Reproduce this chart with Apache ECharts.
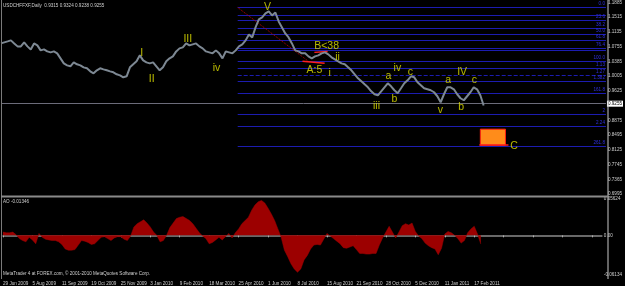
<!DOCTYPE html>
<html>
<head>
<meta charset="utf-8">
<title>USDCHF Daily</title>
<script src="https://cdn.jsdelivr.net/npm/echarts@6/dist/echarts.min.js"></script>
<style>
  html, body { margin: 0; padding: 0; background: #000; }
  #chart { width: 625px; height: 286px; }
</style>
</head>
<body>
<div id="chart"></div>
<script>
// one point every 3 daily bars, 29 Jun 2009 .. Feb 2011
const dateLabels = ['29 Jun 2009', '5 Aug 2009', '11 Sep 2009', '19 Oct 2009', '25 Nov 2009', '3 Jan 2010',
  '9 Feb 2010', '18 Mar 2010', '25 Apr 2010', '1 Jun 2010', '8 Jul 2010', '15 Aug 2010', '21 Sep 2010',
  '28 Oct 2010', '5 Dec 2010', '11 Jan 2011', '17 Feb 2011'];

const closes = [
  1.0839, 1.0865, 1.0890, 1.0916, 1.0839, 1.0763, 1.0763, 1.0865, 1.0763, 1.0686,
  1.0839, 1.0788, 1.0661, 1.0686, 1.0635, 1.0610, 1.0635, 1.0585, 1.0457, 1.0330,
  1.0279, 1.0254, 1.0355, 1.0305, 1.0279, 1.0228, 1.0203, 1.0126, 1.0075, 1.0152,
  1.0203, 1.0177, 1.0152, 1.0126, 1.0101, 1.0050, 1.0024, 0.9973, 0.9999, 1.0228,
  1.0305, 1.0381, 1.0534, 1.0406, 1.0355, 1.0330, 1.0355, 1.0254, 1.0152, 1.0228,
  1.0381, 1.0457, 1.0508, 1.0635, 1.0712, 1.0737, 1.0839, 1.0788, 1.0814, 1.0839,
  1.0763, 1.0712, 1.0635, 1.0610, 1.0585, 1.0661, 1.0585, 1.0457, 1.0635, 1.0610,
  1.0585, 1.0661, 1.0763, 1.0814, 1.0916, 1.1068, 1.0992, 1.1247, 1.1450, 1.1501,
  1.1603, 1.1654, 1.1552, 1.1628, 1.1399, 1.1247, 1.1094, 1.0992, 1.0839, 1.0661,
  1.0635, 1.0585, 1.0585, 1.0508, 1.0457, 1.0508, 1.0534, 1.0585, 1.0610, 1.0559,
  1.0483, 1.0432, 1.0381, 1.0330, 1.0305, 1.0228, 1.0152, 1.0050, 0.9948, 0.9872,
  0.9795, 0.9719, 0.9617, 0.9541, 0.9515, 0.9617, 0.9719, 0.9821, 0.9744, 0.9643,
  0.9566, 0.9693, 0.9821, 0.9897, 0.9999, 0.9973, 0.9846, 0.9770, 0.9693, 0.9668,
  0.9643, 0.9592, 0.9490, 0.9337, 0.9541, 0.9719, 0.9719, 0.9668, 0.9541, 0.9439,
  0.9388, 0.9490, 0.9592, 0.9719, 0.9668, 0.9515, 0.9255
];

const aoValues = [
  0.005, 0.004, 0.004, 0.005, 0.001, -0.005, -0.008, -0.010, -0.003, -0.007,
  -0.013, 0.003, -0.003, -0.006, -0.007, -0.008, -0.008, -0.010, -0.014, -0.021,
  -0.023, -0.023, -0.022, -0.015, -0.008, -0.009, -0.011, -0.014, -0.013, -0.008,
  -0.003, -0.002, -0.005, -0.008, -0.004, -0.002, -0.002, -0.006, -0.008, -0.001,
  0.013, 0.018, 0.021, 0.024, 0.019, 0.013, 0.005, 0.000, -0.010, -0.008,
  0.000, 0.012, 0.019, 0.026, 0.028, 0.029, 0.026, 0.023, 0.018, 0.011,
  0.004, -0.001, -0.005, -0.013, -0.011, -0.007, -0.003, -0.007, -0.002, 0.003,
  -0.004, 0.004, 0.010, 0.018, 0.023, 0.028, 0.039, 0.047, 0.052, 0.054,
  0.050, 0.042, 0.033, 0.023, 0.010, -0.003, -0.023, -0.033, -0.044, -0.052,
  -0.057, -0.052, -0.038, -0.031, -0.021, -0.015, -0.014, -0.015, -0.006, 0.003,
  -0.001, -0.005, -0.009, -0.013, -0.019, -0.020, -0.018, -0.016, -0.022, -0.028,
  -0.028, -0.029, -0.029, -0.028, -0.028, -0.015, -0.004, 0.005, 0.014, 0.005,
  -0.004, 0.005, 0.015, 0.018, 0.016, 0.019, 0.006, -0.001, -0.005, -0.012,
  -0.016, -0.019, -0.021, -0.030, -0.020, 0.002, 0.006, 0.004, 0.000, -0.005,
  -0.012, -0.008, 0.004, 0.010, 0.014, 0.002, -0.01346
];

const priceTicks = ['0.6995', '0.7365', '0.7745', '0.8125', '0.8495', '0.8875', '',
  '0.9625', '1.0005', '1.0385', '1.0755', '1.1135', '1.1515', '1.1885'];
const priceMin = 0.6995;
const priceStep = 0.0376;
const lastPrice = 0.9255;

// fibonacci levels drawn from the V top
const fibLevels = [1.1756, 1.1552, 1.1425, 1.1221, 1.1068, 1.0916, 1.0712, 1.0661, 1.0381,
  1.0203, 1.0024, 0.9872, 0.9566, 0.9031, 0.8728, 0.8217];
const fibNames = ['0.0', '', '23.6', '38.2', '50.0', '61.8', '76.4', '', '100.0',
  '1.13', '1.27', '1.382', '161.8', '2', '2.24', '261.8'];
const fibStart = 71.6;
const lastSlot = 183;

// wave count labels (slot, price)
const waveNames = ['V', 'I', 'II', 'III', 'iv', 'A:5', 'B<38', 'ii', 'i', 'iii', 'a', 'iv', 'b', 'c',
  'v', 'a', 'IV', 'b', 'c', 'C'];
const waveX = [80.6, 42.6, 45.6, 56.5, 65.2, 94.8, 98.5, 101.8, 99.4, 113.6, 117.2, 119.9, 119.0, 123.8,
  132.9, 135.3, 139.5, 139.2, 143.2, 155.2];
const waveY = [1.1756, 1.0585, 0.9923, 1.0941, 1.0203, 1.0152, 1.0763, 1.0483, 1.0075, 0.9235, 0.9999,
  1.0203, 0.9414, 1.0101, 0.9133, 0.9897, 1.0101, 0.9210, 0.9897, 0.8217];

const small = { fontSize: 4.6, fontFamily: 'Liberation Sans', color: '#cfcfcf' };

let myChart = echarts.init(document.getElementById('chart'));

let fibLines = fibLevels.map((lvl, i) => [
  {
    coord: [fibStart, lvl],
    lineStyle: { color: '#1c1cb0', width: 1, type: fibNames[i] === '1.27' ? 'dashed' : 'solid' },
    label: {
      show: fibNames[i] !== '', formatter: fibNames[i], position: 'insideEndTop', distance: 1,
      fontSize: 4.6, fontFamily: 'Liberation Sans', color: '#3030e0'
    }
  },
  { coord: [lastSlot, lvl] }
]);

let redLine = { color: '#ff2020', width: 1.5, type: 'solid' };

let option = {
  backgroundColor: '#000',
  animation: false,
  title: [
    { text: 'USDCHFFXF,Daily  0.9315 0.9324 0.9238 0.9255', left: 3, top: 3, padding: 0,
      textStyle: Object.assign({ fontWeight: 'normal' }, small) },
    { text: 'AO -0.01346', left: 3, top: 199, padding: 0,
      textStyle: Object.assign({ fontWeight: 'normal' }, small) },
    { text: 'MetaTrader 4 at FOREX.com, © 2001-2010 MetaQuotes Software Corp.', left: 3, top: 271, padding: 0,
      textStyle: Object.assign({ fontWeight: 'normal' }, small) }
  ],
  grid: [
    { left: 1, width: 606, top: 2, height: 192 },
    { left: 1, width: 606, top: 199, height: 76 }
  ],
  xAxis: [
    { type: 'value', gridIndex: 0, min: 0, max: lastSlot, interval: 9, show: false },
    {
      type: 'value', gridIndex: 1, min: 0, max: lastSlot, interval: 9, offset: 4,
      splitLine: { show: false },
      axisLine: { show: true, lineStyle: { color: '#8a8a8a', width: 1.5 } },
      axisTick: { show: true, length: 2, lineStyle: { color: '#b0b0b0' } },
      axisLabel: Object.assign({
        margin: 2, align: 'left', showMaxLabel: false,
        formatter: v => dateLabels[Math.round(v / 9)] || ''
      }, small)
    }
  ],
  yAxis: [
    {
      type: 'value', gridIndex: 0, position: 'right', min: priceMin, max: priceMin + priceStep * 13,
      interval: priceStep,
      splitLine: { show: false }, axisLine: { show: false }, axisTick: { show: false },
      axisLabel: Object.assign({
        margin: 2, align: 'left', showMinLabel: true, showMaxLabel: true,
        formatter: v => priceTicks[Math.round((v - priceMin) / priceStep)] || ''
      }, small)
    },
    {
      type: 'value', gridIndex: 1, position: 'right', min: -0.06134, max: 0.05624, interval: 0.06134,
      splitLine: { show: false }, axisLine: { show: false }, axisTick: { show: false },
      axisLabel: Object.assign({
        margin: 2, align: 'left', showMinLabel: true, showMaxLabel: true,
        formatter: v => Math.abs(v) < 1e-9 ? '0.00' : v.toFixed(5)
      }, small)
    }
  ],
  graphic: [
    { type: 'line', shape: { x1: 1.5, y1: 0, x2: 1.5, y2: 279 }, style: { stroke: '#7a7a7a', lineWidth: 1 }, z: 10 },
    { type: 'line', shape: { x1: 608, y1: 0, x2: 608, y2: 279 }, style: { stroke: '#c8c8c8', lineWidth: 1 }, z: 10 },
    { type: 'line', shape: { x1: 1, y1: 196.5, x2: 608, y2: 196.5 }, style: { stroke: '#8a8a8a', lineWidth: 2 }, z: 10 }
  ],
  series: [
    {
      name: 'USDCHF',
      type: 'line',
      xAxisIndex: 0, yAxisIndex: 0,
      data: closes.map((v, i) => [i, v]),
      symbol: 'none',
      lineStyle: { color: '#7d8893', width: 2 },
      z: 5,
      markLine: {
        silent: true,
        symbol: ['none', 'none'],
        data: [
          {
            yAxis: lastPrice,
            lineStyle: { color: '#6c6c7a', width: 1, type: 'solid' },
            label: {
              position: 'end', distance: 1, formatter: lastPrice.toFixed(4), backgroundColor: '#fff',
              color: '#000', padding: [1, 1, 0, 1], fontSize: 4.6, fontFamily: 'Liberation Sans'
            }
          },
          ...fibLines,
          [{ coord: [fibStart, 1.1756], lineStyle: { color: '#c00000', width: 1, type: 'dotted' }, label: { show: false } },
           { coord: [93, 1.0381] }],
          [{ coord: [91.2, 1.0381], lineStyle: redLine, label: { show: false } }, { coord: [97.9, 1.0330] }],
          [{ coord: [94.8, 1.0610], lineStyle: redLine, label: { show: false } }, { coord: [98.8, 1.0635] }],
          [{ coord: [144.7, 0.8242], lineStyle: redLine, label: { show: false } }, { coord: [153.5, 0.8242] }]
        ]
      },
      markArea: {
        silent: true,
        data: [[
          { coord: [145, 0.8650], itemStyle: { color: '#ff8c1a', borderColor: '#ff2010', borderWidth: 1 } },
          { coord: [152.6, 0.8242] }
        ]]
      }
    },
    {
      name: 'waves',
      type: 'scatter',
      xAxisIndex: 0, yAxisIndex: 0,
      symbolSize: 0,
      z: 8,
      data: waveNames.map((n, i) => ({ name: n, value: [waveX[i], waveY[i]] })),
      label: {
        show: true, position: 'inside', formatter: p => p.name,
        color: '#e4e400', fontSize: 10.5, fontFamily: 'Liberation Sans'
      }
    },
    {
      name: 'AO',
      type: 'line',
      xAxisIndex: 1, yAxisIndex: 1,
      data: aoValues.map((v, i) => [i, v]),
      symbol: 'none',
      lineStyle: { color: '#9c0000', width: 0.5 },
      areaStyle: { color: '#9c0000', opacity: 1 }
    }
  ]
};

option && myChart.setOption(option);
</script>
</body>
</html>
